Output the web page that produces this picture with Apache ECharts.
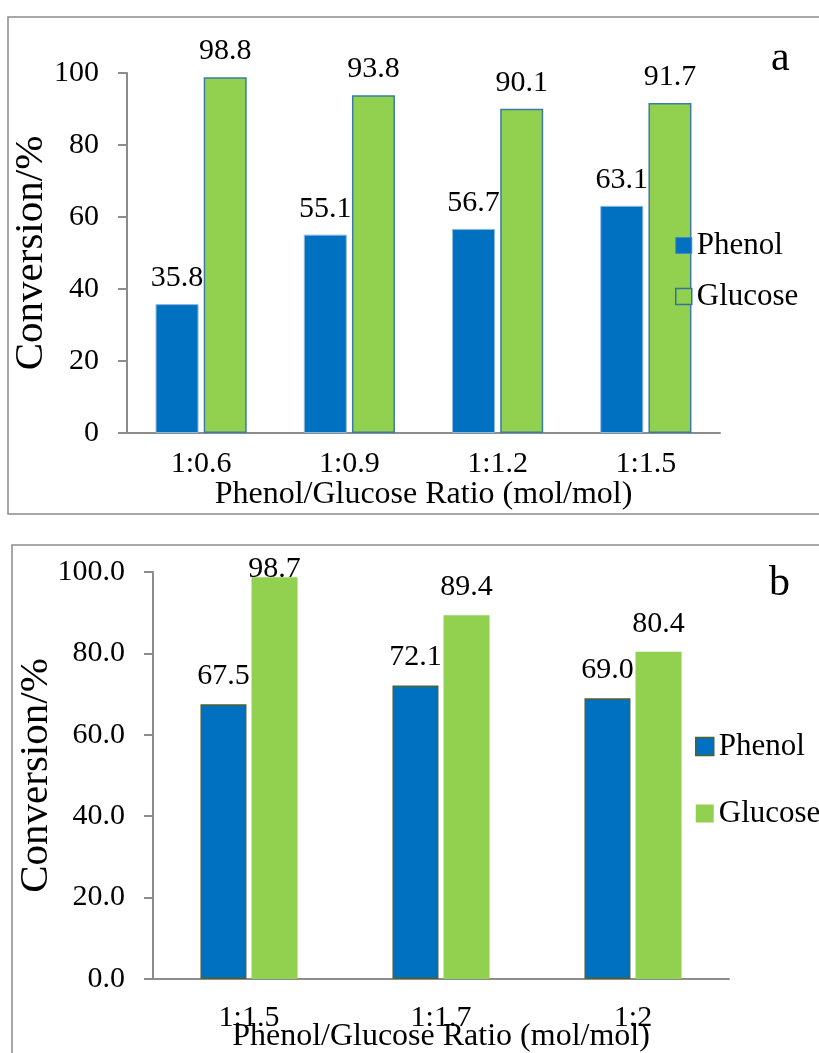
<!DOCTYPE html>
<html lang="en">
<head>
    <meta charset="UTF-8">
    <title>Phenol / Glucose conversion</title>
    <style>
        html, body { margin: 0; padding: 0; background: #fff; }
    </style>
</head>
<body>
<div id="main" style="width: 819px;height:1053px;"></div>
<script type="text/javascript" src="https://cdn.jsdelivr.net/npm/echarts@6/dist/echarts.min.js"></script>
<script>
    // panel a
    var catsA = ['1:0.6', '1:0.9', '1:1.2', '1:1.5'];
    var phenolA = [35.8, 55.1, 56.7, 63.1];
    var glucoseA = [98.8, 93.8, 90.1, 91.7];
    // panel b
    var catsB = ['1:1.5', '1:1.7', '1:2'];
    var phenolB = [67.5, 72.1, 69.0];
    var glucoseB = [98.7, 89.4, 80.4];

    var FONT = 'Liberation Serif';
    var axisGray = '#8c8c8c';

    var myChart = echarts.init(document.getElementById('main'));

    function valLabel(dist) {
        return {
            show: true,
            position: 'top',
            distance: dist,
            fontFamily: FONT,
            fontSize: 30,
            color: '#000',
            formatter: function (p) { return p.value.toFixed(1); }
        };
    }

    function xAxisOf(idx, cats, margin, gap) {
        return {
            type: 'category',
            gridIndex: idx,
            data: cats,
            name: 'Phenol/Glucose Ratio (mol/mol)',
            nameLocation: 'middle',
            nameGap: gap,
            nameMoveOverlap: false,
            nameTextStyle: {fontFamily: FONT, fontSize: 32, color: '#000'},
            axisLine: {lineStyle: {color: axisGray, width: 2}},
            axisTick: {length: 9, lineStyle: {color: axisGray, width: 2}},
            axisLabel: {fontFamily: FONT, fontSize: 30, color: '#000', margin: margin}
        };
    }

    function yAxisOf(idx, gap, digits) {
        return {
            type: 'value',
            gridIndex: idx,
            min: 0,
            max: 100,
            interval: 20,
            name: 'Conversion/%',
            nameLocation: 'middle',
            nameGap: gap,
            nameMoveOverlap: false,
            nameTextStyle: {fontFamily: FONT, fontSize: 41, color: '#000'},
            axisLine: {show: true, lineStyle: {color: axisGray, width: 2}},
            axisTick: {show: true, length: 9, lineStyle: {color: axisGray, width: 2}},
            splitLine: {show: false},
            axisLabel: {
                fontFamily: FONT, fontSize: 30, color: '#000', margin: 28,
                formatter: function (v) { return v.toFixed(digits); }
            }
        };
    }

    var option = {
        animation: false,
        backgroundColor: '#fff',
        textStyle: {fontFamily: FONT, color: '#000'},
        graphic: [
            // panel frames
            {type: 'rect', shape: {x: 8, y: 17, width: 830, height: 497},
                style: {fill: 'none', stroke: '#8a8a8a', lineWidth: 1.5}},
            {type: 'rect', shape: {x: 12, y: 545, width: 830, height: 530},
                style: {fill: 'none', stroke: '#8a8a8a', lineWidth: 1.5}}
        ],
        title: [
            {text: 'a', left: 766, top: 33, textStyle: {fontFamily: FONT, fontSize: 42, fontWeight: 'normal', color: '#000'}},
            {text: 'b', left: 764, top: 558, textStyle: {fontFamily: FONT, fontSize: 42, fontWeight: 'normal', color: '#000'}}
        ],
        legend: [
            {
                orient: 'vertical', left: 670, top: 225, itemWidth: 16, itemHeight: 16, itemGap: 20,
                textStyle: {fontFamily: FONT, fontSize: 31, color: '#000'},
                data: [
                    {name: 'Phenol', icon: 'rect', itemStyle: {color: '#0070c0', borderColor: '#4a86c0', borderWidth: 1}},
                    {name: 'Glucose', icon: 'rect', itemStyle: {color: '#92d050', borderColor: '#31739c', borderWidth: 1.5}}
                ]
            },
            {
                orient: 'vertical', left: 690, top: 726, itemWidth: 18, itemHeight: 18, itemGap: 36,
                textStyle: {fontFamily: FONT, fontSize: 31, color: '#000'},
                data: [
                    {name: 'Phenol', icon: 'rect', itemStyle: {color: '#0070c0', borderColor: '#4f6228', borderWidth: 1.5}},
                    {name: 'Glucose', icon: 'rect', itemStyle: {color: '#92d050', borderWidth: 0}}
                ]
            }
        ],
        grid: [
            {left: 127, right: 99, top: 73, height: 360, containLabel: false, outerBoundsMode: 'none'},
            {left: 153, right: 90, top: 572, height: 407, containLabel: false, outerBoundsMode: 'none'}
        ],
        xAxis: [xAxisOf(0, catsA, 16, 46), xAxisOf(1, catsB, 24, 42)],
        yAxis: [yAxisOf(0, 75, 0), yAxisOf(1, 96, 1)],
        series: [
            {
                name: 'Phenol', type: 'bar', xAxisIndex: 0, yAxisIndex: 0,
                barWidth: 43, barGap: '12%',
                itemStyle: {color: '#0070c0', borderColor: '#8fb8de', borderWidth: 1},
                label: valLabel(11),
                data: phenolA
            },
            {
                name: 'Glucose', type: 'bar', xAxisIndex: 0, yAxisIndex: 0,
                barWidth: 43, barGap: '12%',
                itemStyle: {color: '#92d050', borderColor: '#3a7ca5', borderWidth: 1.5},
                label: valLabel(11),
                data: glucoseA
            },
            {
                name: 'Phenol', type: 'bar', xAxisIndex: 1, yAxisIndex: 1,
                barWidth: 46, barGap: '11%',
                itemStyle: {color: '#0070c0', borderColor: '#4f6228', borderWidth: 1.5},
                label: valLabel(13),
                data: phenolB
            },
            {
                name: 'Glucose', type: 'bar', xAxisIndex: 1, yAxisIndex: 1,
                barWidth: 46, barGap: '11%',
                itemStyle: {color: '#92d050'},
                label: valLabel(13),
                // label of the tallest bar is pushed down onto the bar top, like the original
                data: glucoseB.map(function (v) {
                    return v > 95 ? {value: v, label: {distance: -7}} : v;
                })
            }
        ]
    };

    myChart.setOption(option);
</script>
</body>
</html>
